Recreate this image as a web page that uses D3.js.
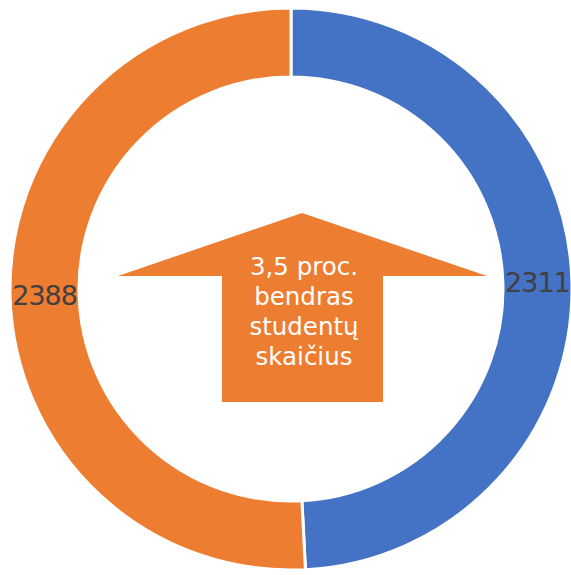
<!DOCTYPE html>
<html>
<head>
<meta charset="utf-8">
<script src="https://cdn.jsdelivr.net/npm/d3@7"></script>
<style>
  body { margin: 0; background: #fff; }
  svg { display: block; }
</style>
</head>
<body>
<svg width="571" height="575"></svg>
<script>
// donut data
const labels = ["A", "B"];
const values = [2311, 2388];
const colors = ["#4472C4", "#ED7D31"];
const noteLines = ["3,5 proc.", "bendras", "studentų", "skaičius"];

var svg = d3.select("svg"),
    cx = 291, cy = 289,
    outerR = 281, innerR = 212;

var g = svg.append("g").attr("transform", "translate(" + cx + "," + cy + ")");

var pie = d3.pie().sort(null).value(function(d) { return d; });
var arc = d3.arc().innerRadius(innerR).outerRadius(outerR);

var arcs = pie(values);

g.selectAll("path.slice")
    .data(arcs)
    .enter().append("path")
    .attr("class", "slice")
    .attr("d", arc)
    .attr("fill", function(d, i) { return colors[i]; })
    .attr("stroke", "#fff")
    .attr("stroke-width", 3);

g.selectAll("text.val")
    .data(arcs)
    .enter().append("text")
    .attr("class", "val")
    .attr("transform", function(d) { return "translate(" + arc.centroid(d) + ")"; })
    .attr("text-anchor", "middle")
    .attr("dy", "0.36em")
    .style("font-family", "DejaVu Sans, sans-serif")
    .style("font-size", "27px")
    .style("letter-spacing", "-1px")
    .style("fill", "#404040")
    .text(function(d) { return d.value; });

// up arrow in the middle (relative to centre)
var ax = 11;
var arrow = [
    [ax, -76], [ax + 185, -13], [ax + 81, -13], [ax + 81, 113],
    [ax - 80, 113], [ax - 80, -13], [ax - 184, -13]
];
g.append("path")
    .attr("d", d3.line()(arrow) + "Z")
    .attr("fill", "#ED7D31");

g.selectAll("text.note")
    .data(noteLines)
    .enter().append("text")
    .attr("class", "note")
    .attr("x", ax + 2)
    .attr("y", function(d, i) { return -14 + i * 30; })
    .attr("text-anchor", "middle")
    .style("font-family", "DejaVu Sans, sans-serif")
    .style("font-size", "24.5px")
    .style("fill", "#fff")
    .text(function(d) { return d; });
</script>
</body>
</html>
